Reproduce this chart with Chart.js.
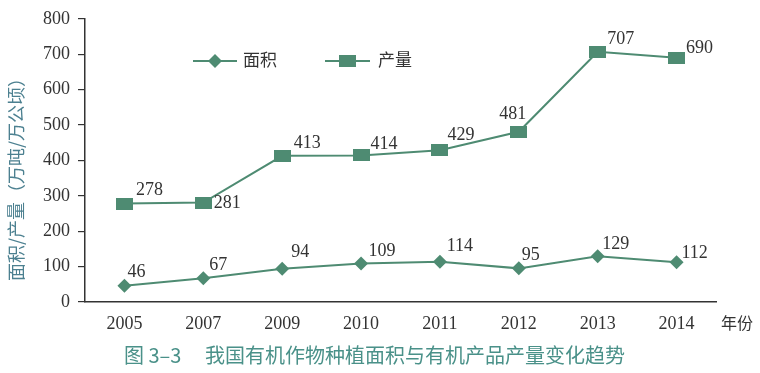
<!DOCTYPE html>
<html>
<head>
<meta charset="utf-8">
<script src="https://cdn.jsdelivr.net/npm/chart.js@4.4.1/dist/chart.umd.min.js"></script>
<style>
  html, body { margin: 0; background: #fff; }
  #wrap { width: 760px; height: 373px; }
</style>
</head>
<body>
<div id="wrap"><canvas id="chart" width="760" height="373"></canvas></div>
<script>
// data
var years = ['2005', '2007', '2009', '2010', '2011', '2012', '2013', '2014'];
var areaValues = [46, 67, 94, 109, 114, 95, 129, 112];
var outputValues = [278, 281, 413, 414, 429, 481, 707, 690];
var yTickValues = [0, 100, 200, 300, 400, 500, 600, 700, 800];
var seriesNames = ['面积', '产量'];
var yTitle = '面积/产量（万吨/万公顷）';
var xTitle = '年份';
var captionNo = '图 3–3';
var caption = '我国有机作物种植面积与有机产品产量变化趋势';

// label nudges (px) so the numbers sit like in the book
var areaLabelOffsets = [[12, -13], [15, -13], [18, -16], [21, -12], [20, -15], [12, -13], [18, -12], [18, -9]];
var outputLabelOffsets = [[25, -13], [24, 1], [25, -13], [23, -11], [21, -15], [-6, -17], [23, -12], [23, -9]];

var green = '#4e8b72';
var ink = '#333';
var serif = "'Liberation Serif', 'DejaVu Serif', serif";
var cjk = "'Noto Sans CJK SC', 'Noto Sans', sans-serif";

// the squares in the figure are wider than tall
function makeBox(w, h) {
    var c = document.createElement('canvas');
    c.width = w; c.height = h;
    var g = c.getContext('2d');
    g.fillStyle = green;
    g.fillRect(0, 0, w, h);
    return c;
}
var boxMarker = makeBox(17, 12);

var extras = {
    id: 'extras',
    afterDatasetsDraw: function(chart) {
        var ctx = chart.ctx;
        ctx.save();

        // value labels
        ctx.font = '18px ' + serif;
        ctx.fillStyle = ink;
        ctx.textAlign = 'center';
        ctx.textBaseline = 'middle';
        [[0, areaValues, areaLabelOffsets], [1, outputValues, outputLabelOffsets]].forEach(function(s) {
            var meta = chart.getDatasetMeta(s[0]);
            meta.data.forEach(function(pt, i) {
                ctx.fillText(String(s[1][i]), pt.x + s[2][i][0], pt.y + s[2][i][1]);
            });
        });

        // legend inside the plot
        ctx.strokeStyle = green;
        ctx.lineWidth = 2;
        ctx.beginPath(); ctx.moveTo(193, 61); ctx.lineTo(237, 61); ctx.stroke();
        ctx.beginPath(); ctx.moveTo(325, 61); ctx.lineTo(370, 61); ctx.stroke();
        ctx.fillStyle = green;
        ctx.beginPath();
        ctx.moveTo(215, 54); ctx.lineTo(222, 61); ctx.lineTo(215, 68); ctx.lineTo(208, 61);
        ctx.closePath(); ctx.fill();
        ctx.drawImage(boxMarker, 339, 55);
        ctx.fillStyle = ink;
        ctx.font = '17px ' + cjk;
        ctx.textAlign = 'left';
        ctx.fillText(seriesNames[0], 243, 60);
        ctx.fillText(seriesNames[1], 378, 60);

        // x title
        ctx.font = '16px ' + cjk;
        ctx.fillText(xTitle, 721, 323);

        // caption
        ctx.fillStyle = '#4a9189';
        ctx.font = '20px ' + cjk;
        ctx.fillText(captionNo, 124, 355);
        ctx.fillText(caption, 205, 355);

        // y title, vertical
        ctx.translate(16, 175);
        ctx.rotate(-Math.PI / 2);
        ctx.textAlign = 'center';
        ctx.fillStyle = '#4c8090';
        ctx.font = '18px ' + cjk;
        ctx.fillText(yTitle, 0, 0);
        ctx.restore();
    }
};

new Chart(document.getElementById('chart').getContext('2d'), {
    type: 'line',
    data: {
        labels: years,
        datasets: [{
            label: seriesNames[0],
            data: areaValues,
            borderColor: green,
            backgroundColor: green,
            borderWidth: 2,
            pointStyle: 'rectRot',
            pointRadius: 7,
            pointBorderWidth: 0,
            tension: 0
        }, {
            label: seriesNames[1],
            data: outputValues,
            borderColor: green,
            backgroundColor: green,
            borderWidth: 2,
            pointStyle: boxMarker,
            pointRadius: 8,
            tension: 0
        }]
    },
    options: {
        responsive: false,
        animation: false,
        layout: { padding: { top: 14, right: 44, left: 0, bottom: 0 } },
        plugins: {
            legend: { display: false },
            tooltip: { enabled: false }
        },
        scales: {
            x: {
                offset: true,
                grid: { display: false, drawTicks: false },
                border: { color: ink, width: 1.5 },
                ticks: { font: { family: serif, size: 18 }, color: ink, padding: 11 },
                afterFit: function(s) { s.height = 71; }
            },
            y: {
                min: 0,
                max: 800,
                afterBuildTicks: function(s) { s.ticks = yTickValues.map(function(v) { return { value: v }; }); },
                grid: { drawOnChartArea: false, drawTicks: true, tickLength: 7, color: ink, lineWidth: 1.2 },
                border: { color: ink, width: 1.5 },
                ticks: { font: { family: serif, size: 18 }, color: ink, padding: 8 },
                afterFit: function(s) { s.width = 85; }
            }
        }
    },
    plugins: [extras]
});
</script>
</body>
</html>
